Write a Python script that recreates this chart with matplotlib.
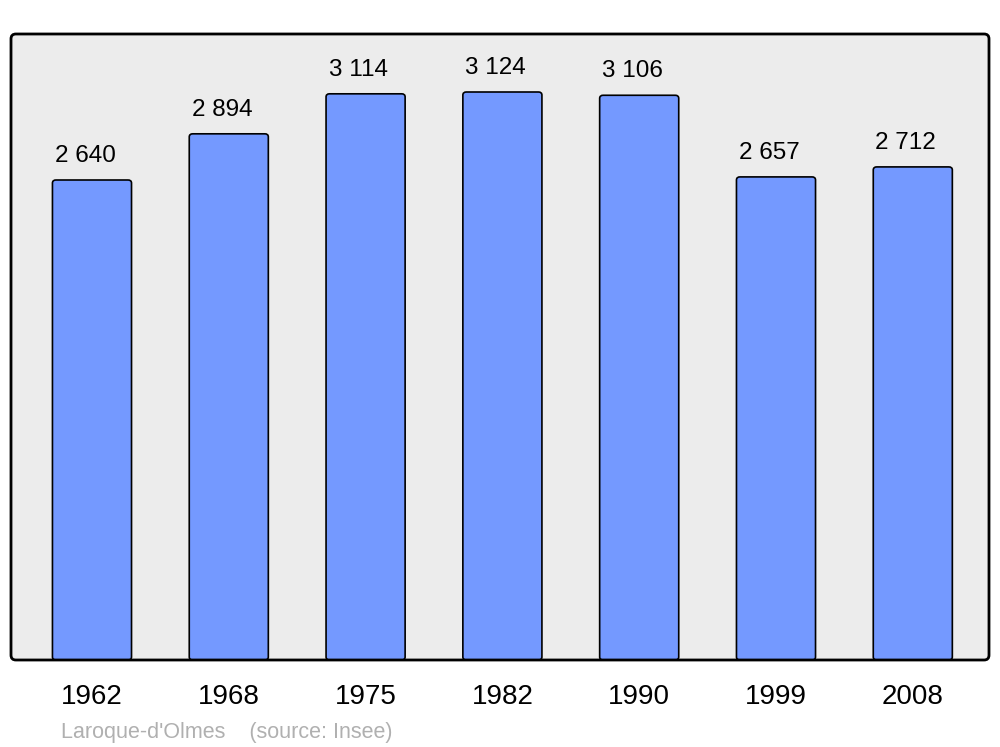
import matplotlib.pyplot as plt
from matplotlib.patches import FancyBboxPatch

years = ["1962", "1968", "1975", "1982", "1990", "1999", "2008"]
population = [2640, 2894, 3114, 3124, 3106, 2657, 2712]
value_labels = ["2 640", "2 894", "3 114", "3 124", "3 106", "2 657", "2 712"]
caption = "Laroque-d'Olmes    (source: Insee)"

plt.rcParams['font.family'] = ['Liberation Sans', 'DejaVu Sans']

fig = plt.figure(figsize=(10, 7.47), dpi=100)
ax = fig.add_axes([0.011, 87 / 747, 0.978, 626 / 747])
ax.set_facecolor('none')

x = list(range(len(years)))
bars = ax.bar(x, population, width=0.578, color='none', edgecolor='none')

# redraw bars with slightly rounded corners
for rect in bars:
    p = FancyBboxPatch((rect.get_x(), rect.get_y()), rect.get_width(), rect.get_height(),
                       boxstyle="round,pad=0,rounding_size=0.025", mutation_aspect=680,
                       facecolor='#7499ff', edgecolor='black', linewidth=1.2, zorder=2)
    ax.add_patch(p)

for xi, v, lab in zip(x, population, value_labels):
    ax.annotate(lab, (xi, v), xytext=(-5, 13), textcoords='offset points',
                ha='center', va='baseline', fontsize=17.5, color='black')

ax.set_xlim(-0.592, 6.557)
ax.set_ylim(0, 3443)
ax.set_xticks(x)
ax.set_xticklabels(years, fontsize=20)
ax.tick_params(axis='x', length=0, pad=17)
ax.set_yticks([])
for s in ax.spines.values():
    s.set_visible(False)

# panel background and frame with rounded corners
bg = FancyBboxPatch((0, 0), 1, 1, boxstyle="round,pad=0,rounding_size=0.005",
                    mutation_aspect=1.56, transform=ax.transAxes,
                    facecolor='#ececec', edgecolor='none', zorder=0, clip_on=False)
ax.add_patch(bg)
frame = FancyBboxPatch((0, 0), 1, 1, boxstyle="round,pad=0,rounding_size=0.005",
                       mutation_aspect=1.56, transform=ax.transAxes,
                       facecolor='none', edgecolor='black', linewidth=2.0, zorder=3, clip_on=False)
ax.add_patch(frame)

fig.text(0.061, 9 / 747, caption, fontsize=15.5, color='#b0b0b0', ha='left', va='baseline')

fig.savefig('out.png', dpi=100)
